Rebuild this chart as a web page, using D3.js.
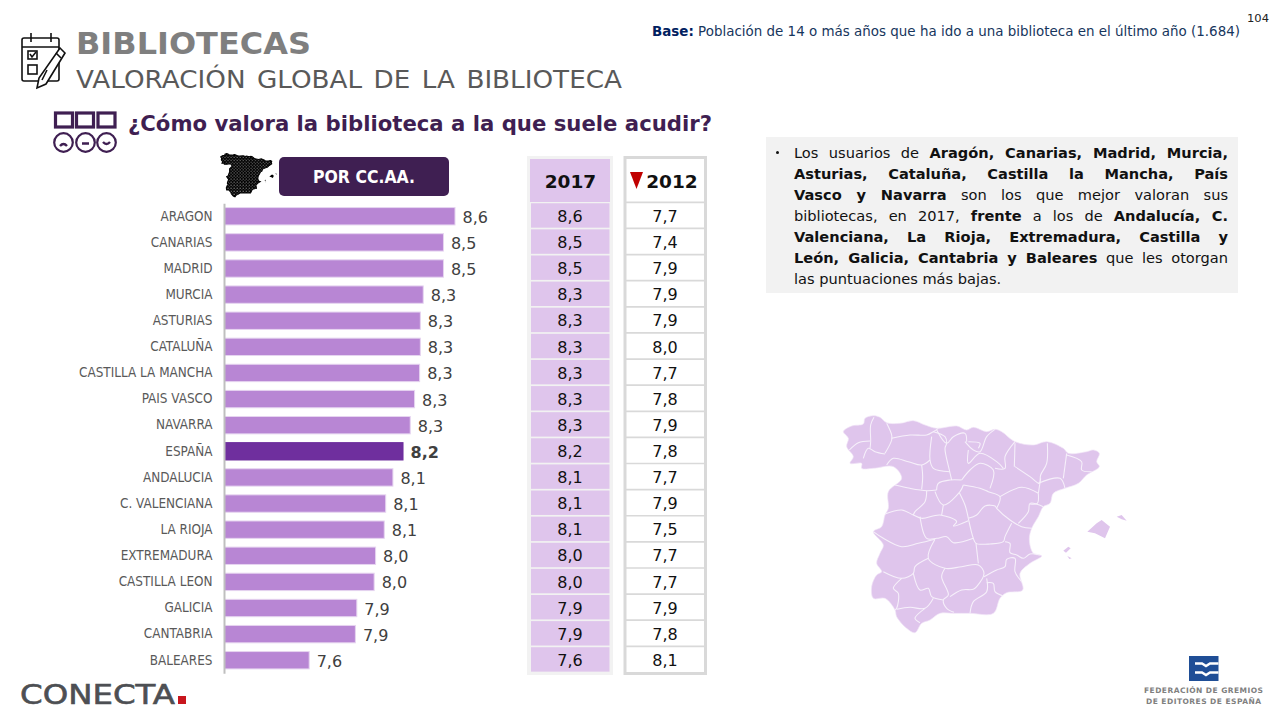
<!DOCTYPE html>
<html lang="es">
<head>
<meta charset="utf-8">
<script src="https://cdn.jsdelivr.net/npm/d3@7"></script>
<style>
html,body{margin:0;padding:0;background:#fff;overflow:hidden}
svg{display:block}
text{font-family:"DejaVu Sans",sans-serif}
.cond{font-family:"DejaVu Sans",sans-serif;font-stretch:condensed}
</style>
</head>
<body>
<svg id="c" width="1275" height="717"></svg>
<script>
const categories = ["ARAGON","CANARIAS","MADRID","MURCIA","ASTURIAS","CATALUÑA","CASTILLA LA MANCHA","PAIS VASCO","NAVARRA","ESPAÑA","ANDALUCIA","C. VALENCIANA","LA RIOJA","EXTREMADURA","CASTILLA LEON","GALICIA","CANTABRIA","BALEARES"];
const barValues = [8.60,8.52,8.52,8.38,8.36,8.36,8.355,8.32,8.29,8.24,8.17,8.12,8.11,8.05,8.04,7.92,7.91,7.59];
const labels2017 = ["8,6","8,5","8,5","8,3","8,3","8,3","8,3","8,3","8,3","8,2","8,1","8,1","8,1","8,0","8,0","7,9","7,9","7,6"];
const labels2012 = ["7,7","7,4","7,9","7,9","7,9","8,0","7,7","7,8","7,9","7,8","7,7","7,9","7,5","7,7","7,7","7,9","7,8","8,1"];
const highlight = "ESPAÑA";

const noteLines = [
  [["Los usuarios de ",0],["Aragón, Canarias, Madrid, Murcia,",1]],
  [["Asturias, Cataluña, Castilla la Mancha, País",1]],
  [["Vasco y Navarra",1],[" son los que mejor valoran sus",0]],
  [["bibliotecas, en 2017, ",0],["frente",1],[" a los de ",0],["Andalucía, C.",1]],
  [["Valenciana, La Rioja, Extremadura, Castilla y",1]],
  [["León, Galicia, Cantabria y Baleares",1],[" que les otorgan",0]],
  [["las puntuaciones más bajas.",0]]
];

const spainOutline = [[40,95],[65,78],[100,72],[105,55],[130,47],[150,52],[170,68],[210,70],[250,62],[285,75],[320,85],[380,78],[410,90],[430,82],[470,95],[495,88],[515,95],[555,125],[610,135],[650,125],[700,145],[715,160],[770,155],[790,150],[808,160],[800,185],[808,200],[770,225],[745,250],[705,265],[670,280],[660,310],[640,320],[625,350],[605,385],[598,420],[610,460],[635,468],[600,490],[570,520],[578,570],[530,578],[510,595],[490,640],[420,640],[370,640],[330,640],[300,660],[275,670],[255,698],[230,685],[200,650],[195,630],[165,595],[130,595],[125,560],[140,525],[155,515],[140,490],[150,460],[160,435],[130,395],[155,380],[165,345],[175,325],[175,275],[215,235],[190,200],[130,205],[95,205],[95,190],[60,190],[70,170],[50,140],[55,115]];
const islands = [
  [[772,395],[800,370],[815,360],[840,380],[825,415],[795,400]],
  [[860,350],[875,345],[890,362],[875,358]],
  [[700,452],[715,440],[722,445],[708,458]],
  [[712,468],[725,475],[718,477]]
];
const borders = [
 [[132,52],[122,75],[122,125],[120,145]],[[58,150],[85,128],[120,123]],[[100,175],[115,145],[135,155],[165,162]],
 [[170,70],[185,105],[185,120],[165,160]],[[185,115],[240,105],[290,105],[310,95],[325,85]],
 [[170,195],[190,175],[235,185],[275,195],[300,180]],[[305,110],[300,180],[310,205],[360,215]],
 [[310,95],[345,110],[350,130],[345,145],[358,210],[365,240]],[[275,195],[278,230],[275,268]],
 [[195,255],[240,265],[290,272],[320,270]],[[290,272],[285,305],[255,335],[250,345]],
 [[165,342],[215,330],[250,345],[275,355],[330,345],[380,365],[370,378],[415,362]],
 [[320,270],[325,250],[360,240],[395,240]],[[315,275],[340,315],[390,275],[400,255]],[[340,315],[335,345]],
 [[388,278],[405,315],[415,355]],[[400,255],[450,265],[475,275],[510,290],[500,325]],
 [[395,240],[420,210],[450,190],[490,210],[480,265]],
 [[415,355],[440,345],[465,318],[495,318],[500,325],[540,360],[575,380],[605,385]],
 [[415,355],[430,415],[438,430],[480,432],[520,425],[525,410],[545,370]],
 [[270,350],[290,415],[320,415],[350,410],[370,428],[430,415]],
 [[130,395],[160,415],[215,440],[265,430],[315,418]],
 [[315,418],[295,475],[345,505],[395,500],[445,495],[462,520],[440,560],[430,568],[395,570],[360,590]],
 [[295,475],[255,500],[250,520],[215,535],[160,515]],
 [[345,505],[335,530],[355,585],[340,600],[350,625],[372,637]],
 [[250,520],[270,570],[295,565],[305,590],[340,600]],
 [[215,535],[190,565],[205,580],[200,625],[195,630]],
 [[200,628],[240,622],[285,625],[310,595]],[[285,625],[255,655],[270,668]],
 [[438,430],[445,490]],
 [[462,530],[500,510],[525,500],[530,478],[555,475],[555,515],[575,545]],
 [[470,535],[470,575],[430,605],[420,640]],[[470,548],[490,550],[495,575],[520,588]],
 [[525,425],[540,430],[540,458],[560,465],[580,475],[600,462],[630,465]],
 [[565,370],[595,335],[600,310],[640,320]],[[510,290],[575,262],[625,280]],[[625,280],[622,310],[600,312]],
 [[625,250],[690,235],[705,265]],[[625,280],[632,235]],
 [[555,200],[600,230],[628,250],[632,225],[650,190],[652,130]],
 [[555,125],[525,170],[525,205],[495,205]],[[555,130],[553,200]],
 [[710,160],[700,235]],[[710,165],[755,185],[755,210],[785,215]],
 [[320,90],[350,130],[370,110],[405,100],[410,125]],
 [[405,125],[430,150],[450,155],[470,110],[495,88]],[[415,125],[450,130],[445,145]],
 [[415,150],[415,190],[450,160],[500,185],[520,205]]
];

const svg = d3.select("#c");
const defs = svg.append("defs");
const pat = defs.append("pattern").attr("id","specks").attr("width",46).attr("height",46).attr("patternUnits","userSpaceOnUse");
pat.append("rect").attr("width",46).attr("height",46).attr("fill","#000");
pat.append("rect").attr("x",6).attr("y",8).attr("width",13).attr("height",13).attr("fill","#ddd");
pat.append("rect").attr("x",30).attr("y",31).attr("width",13).attr("height",13).attr("fill","#999");

const dark = "#3f1f52";
const x = d3.scaleLinear().domain([7,8.6]).range([224,455]);
const y = d3.scaleBand().domain(categories).range([203.2,673.3]).paddingInner(.335).paddingOuter(.1675);
const closed = d3.line().curve(d3.curveCatmullRomClosed.alpha(.5));
const closedStraight = d3.line().curve(d3.curveLinearClosed);
const open = d3.line().curve(d3.curveCatmullRom.alpha(.5));

/* header */
svg.append("text").attr("x",76).attr("y",54).attr("font-size",30).attr("font-weight",700).attr("fill","#7f7f7f")
  .attr("textLength",235).attr("lengthAdjust","spacingAndGlyphs").text("BIBLIOTECAS");
svg.append("text").attr("x",76).attr("y",88).attr("font-size",25.5).attr("fill","#595959").attr("word-spacing",3)
  .attr("textLength",546).attr("lengthAdjust","spacingAndGlyphs").text("VALORACIÓN GLOBAL DE LA BIBLIOTECA");
svg.append("text").attr("x",128).attr("y",130.5).attr("font-size",22).attr("font-weight",700).attr("fill",dark)
  .attr("textLength",584).attr("lengthAdjust","spacingAndGlyphs").text("¿Cómo valora la biblioteca a la que suele acudir?");
const base = svg.append("text").attr("x",652).attr("y",35.5).attr("font-size",13.5).attr("fill","#17365d")
  .attr("textLength",588).attr("lengthAdjust","spacingAndGlyphs");
base.append("tspan").attr("font-weight",700).attr("fill","#002060").text("Base:");
base.append("tspan").text(" Población de 14 o más años que ha ido a una biblioteca en el último año (1.684)");
svg.append("text").attr("x",1247).attr("y",21.5).attr("font-size",11).attr("fill","#222")
  .attr("textLength",22).attr("lengthAdjust","spacingAndGlyphs").text("104");

/* clipboard icon */
const ic = svg.append("g").attr("fill","none").attr("stroke","#111").attr("stroke-width",1.6);
ic.append("rect").attr("x",22).attr("y",38).attr("width",37).attr("height",43).attr("rx",2);
ic.append("path").attr("d","M22 47H59M31 33V42M51 33V42");
ic.append("rect").attr("x",28).attr("y",51).attr("width",9).attr("height",8);
ic.append("rect").attr("x",28).attr("y",65).attr("width",9).attr("height",9);
ic.append("path").attr("d","M30 54l2 3 4-5");
ic.append("path").attr("fill","#fff").attr("d","M60 48L65 53L46 84L37 88L39 78Z");
ic.append("path").attr("d","M56 53L61 58M47 70L42 80");

/* question icon */
const q = svg.append("g").attr("fill","none").attr("stroke",dark);
[55.5,76.5,98].forEach(v=>q.append("rect").attr("x",v).attr("y",113).attr("width",17).attr("height",14).attr("stroke-width",3.2));
[63.5,85.5,106.5].forEach(v=>q.append("circle").attr("cx",v).attr("cy",142.5).attr("r",9.3).attr("stroke-width",2.2));
q.append("path").attr("stroke-width",2.4).attr("d","M60 146Q63.5 142 67 146M82 143.5H89M103 142Q106.5 146 110 142");

/* small black map */
const mini = svg.append("g").attr("transform","translate(218,150.5) scale(0.0665)");
mini.append("path").attr("d",closedStraight(spainOutline)).attr("fill","url(#specks)").attr("stroke","#000").attr("stroke-width",16);
islands.forEach(p=>mini.append("path").attr("d",closedStraight(p)).attr("fill","#000"));

/* button */
svg.append("rect").attr("x",279).attr("y",157).attr("width",170).attr("height",39).attr("rx",5).attr("fill",dark);
svg.append("text").attr("class","cond").attr("x",364).attr("y",183).attr("text-anchor","middle").attr("font-size",17.5).attr("font-weight",700).attr("fill","#fff")
  .attr("textLength",102).attr("lengthAdjust","spacingAndGlyphs").text("POR CC.AA.");

/* bars */
svg.append("g").selectAll("rect").data(categories).join("rect")
  .attr("x",x(7)+.5).attr("y",d=>y(d)).attr("height",y.bandwidth())
  .attr("width",(d,i)=>x(barValues[i])-x(7)-.5)
  .attr("fill",d=>d===highlight?"#6f2f9e":"#b886d4")
  .attr("stroke",d=>d===highlight?"#6f2f9e":"#e6d4f0").attr("stroke-width",1);
const axis = svg.append("g").attr("transform",`translate(${x(7)},0)`)
  .call(d3.axisLeft(y).tickSize(0).tickSizeOuter(0).tickPadding(11.5));
axis.select(".domain").attr("stroke","#bfbfbf").attr("stroke-width",2);
axis.selectAll("text").attr("font-size",13.4).attr("fill","#595959").attr("class","cond").style("font-family",'"DejaVu Sans"').style("font-stretch","condensed");
svg.append("g").selectAll("text").data(categories).join("text")
  .attr("x",(d,i)=>x(barValues[i])+7.5).attr("y",d=>y(d)+y.bandwidth()/2+6.5)
  .attr("font-size",16).attr("fill","#404040").attr("font-weight",d=>d===highlight?700:400)
  .text((d,i)=>labels2017[i]);

/* 2017 table */
const cellH = y.step()-1.7, cellY = d => y(d)+y.bandwidth()/2-0.8-cellH/2;
svg.append("rect").attr("x",527).attr("y",156).attr("width",86).attr("height",519).attr("fill","#f2f2f2");
svg.append("rect").attr("x",530).attr("y",159).attr("width",80).attr("height",43).attr("fill","#dfc5ec");
svg.append("text").attr("x",570.5).attr("y",188).attr("text-anchor","middle").attr("font-size",18.5).attr("font-weight",700).attr("fill","#111").text("2017");
svg.append("g").selectAll("rect").data(categories).join("rect")
  .attr("x",531).attr("width",78.5).attr("y",cellY).attr("height",cellH).attr("fill","#dfc5ec");
svg.append("g").selectAll("text").data(categories).join("text")
  .attr("x",570).attr("y",d=>cellY(d)+cellH/2+6.5).attr("text-anchor","middle").attr("font-size",16).attr("fill","#111")
  .text((d,i)=>labels2017[i]);

/* 2012 table */
svg.append("rect").attr("x",625).attr("y",157.5).attr("width",80.5).attr("height",516).attr("fill","#fff").attr("stroke","#d9d9d9").attr("stroke-width",3);
svg.append("g").selectAll("line").data(categories).join("line")
  .attr("x1",626).attr("x2",705).attr("y1",d=>cellY(d)-.9).attr("y2",d=>cellY(d)-.9).attr("stroke","#d9d9d9").attr("stroke-width",1.7);
svg.append("path").attr("d","M630 172H643L636.5 189Z").attr("fill","#c00000");
svg.append("text").attr("x",672).attr("y",188).attr("text-anchor","middle").attr("font-size",18.5).attr("font-weight",700).attr("fill","#111").text("2012");
svg.append("g").selectAll("text").data(categories).join("text")
  .attr("x",665).attr("y",d=>cellY(d)+cellH/2+6.5).attr("text-anchor","middle").attr("font-size",16).attr("fill","#111")
  .text((d,i)=>labels2012[i]);

/* note */
svg.append("rect").attr("x",766).attr("y",137).attr("width",472).attr("height",156).attr("fill","#f2f2f2");
svg.append("circle").attr("cx",777.5).attr("cy",152.5).attr("r",1.5).attr("fill","#111");
noteLines.forEach((line,i)=>{
  const t = svg.append("text").attr("x",794).attr("y",157.5+i*21.1).attr("font-size",14.6).attr("fill","#111").attr("xml:space","preserve");
  line.forEach(([s,b])=>t.append("tspan").attr("font-weight",b?700:400).text(s));
  if(i<noteLines.length-1){
    const spaces = line.map(l=>l[0]).join("").split(" ").length-1;
    const len = t.node().getComputedTextLength();
    t.attr("word-spacing",(434-len)/spaces);
  }
});

/* large map */
const map = svg.append("g").attr("transform","translate(830,400) scale(0.33333)");
map.append("path").attr("d",closed(spainOutline)).attr("fill","#dfc5ec").attr("stroke","#f1e6f7").attr("stroke-width",2).attr("stroke-linejoin","round");
islands.forEach(p=>map.append("path").attr("d",closedStraight(p)).attr("fill","#dfc5ec"));
map.append("g").selectAll("path").data(borders).join("path").attr("d",d=>open(d)).attr("fill","none").attr("stroke","#f6f0fa").attr("stroke-width",3.2).attr("stroke-linejoin","round");

/* logos */
svg.append("text").attr("x",20).attr("y",704).attr("font-size",27).attr("fill","#4d4f53").attr("stroke","#4d4f53").attr("stroke-width",.6)
  .attr("textLength",155).attr("lengthAdjust","spacingAndGlyphs").text("CONECTA");
svg.append("rect").attr("x",178).attr("y",696).attr("width",8).attr("height",8).attr("fill","#c8161d");
svg.append("rect").attr("x",1189).attr("y",656).attr("width",29.5).attr("height",25).attr("fill","#1f4e96");
svg.append("path").attr("d","M1195 663.5H1202L1206 666L1210 663.5H1218.5M1195 672.5H1202L1206 675L1210 672.5H1218.5").attr("fill","none").attr("stroke","#fff").attr("stroke-width",2.4);
svg.append("text").attr("x",1144).attr("y",692.5).attr("font-size",7.5).attr("font-weight",700).attr("fill","#808080").attr("textLength",119).attr("lengthAdjust","spacing").text("FEDERACIÓN DE GREMIOS");
svg.append("text").attr("x",1146).attr("y",703.5).attr("font-size",7.5).attr("font-weight",700).attr("fill","#808080").attr("textLength",115).attr("lengthAdjust","spacing").text("DE EDITORES DE ESPAÑA");
</script>
</body>
</html>
